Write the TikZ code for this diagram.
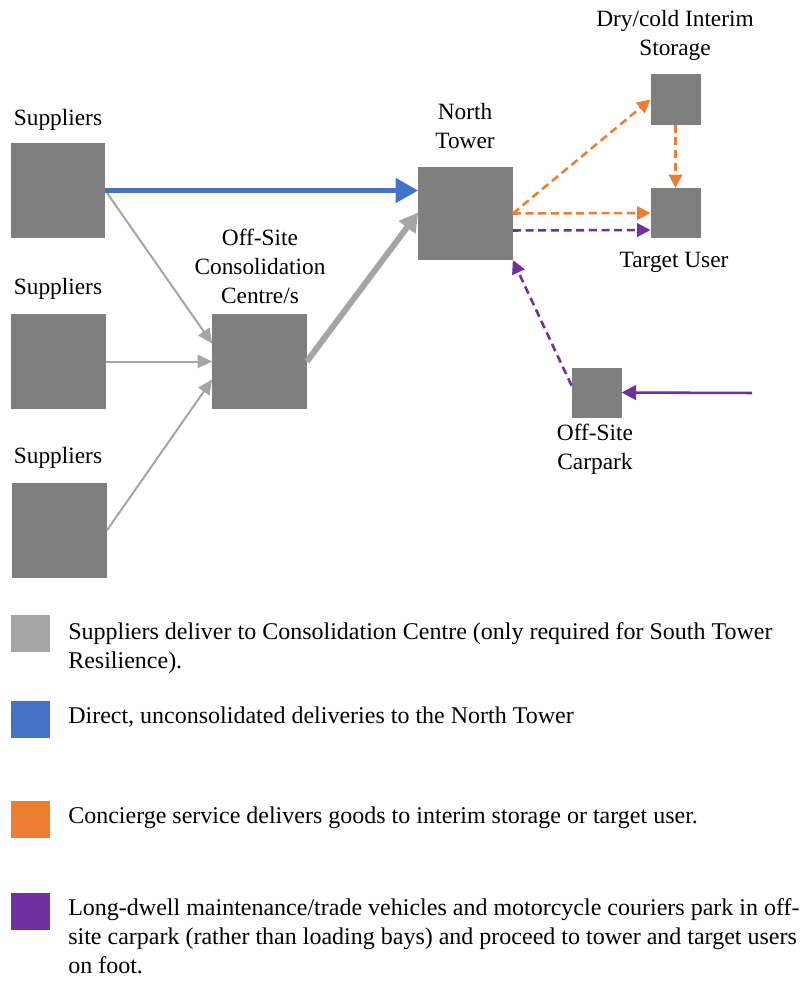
\documentclass[tikz,border=0pt]{standalone}
\usepackage{fontspec}
\setmainfont{Liberation Serif}
\usetikzlibrary{arrows.meta,calc}
\definecolor{boxgray}{HTML}{7F7F7F}
\definecolor{arrgray}{HTML}{A5A5A5}
\definecolor{myblue}{HTML}{4472C4}
\definecolor{myorange}{HTML}{ED7D31}
\definecolor{mypurple}{HTML}{7030A0}
\tikzset{
  box/.style={fill=boxgray, draw=none, inner sep=0pt, outer sep=0pt},
  bigbox/.style={box, minimum width=71pt, minimum height=71pt},
  smallbox/.style={box, minimum width=37.5pt, minimum height=37.5pt},
  lbl/.style={align=center, inner sep=0pt},
  thingray/.style={draw=arrgray, line width=1.5pt, -{Triangle[length=11pt,width=10pt]}},
  thickgray/.style={draw=arrgray, line width=4.5pt, -{Triangle[length=14pt,width=15pt]}},
  bluearr/.style={draw=myblue, line width=3.75pt, -{Triangle[length=17pt,width=18pt]}},
  orangearr/.style={draw=myorange, line width=1.9pt, dash pattern=on 6pt off 3.5pt, -{Triangle[length=10pt,width=10pt]}},
  purplearr/.style={draw=mypurple, line width=1.9pt, dash pattern=on 6pt off 3.5pt, -{Triangle[length=10pt,width=10pt]}},
  purplesolid/.style={draw=mypurple, line width=1.9pt, -{Triangle[length=11pt,width=11pt]}},
  swatch/.style={draw=none, inner sep=0pt, minimum width=29pt, minimum height=28pt},
  legtext/.style={anchor=north west, align=left, inner sep=0pt, font=\fontsize{18}{22}\selectfont}
}
\begin{document}
\begin{tikzpicture}[x=0.75pt,y=-0.75pt,font=\fontsize{17.5}{21.75}\selectfont]
\useasboundingbox (0,0) rectangle (802,981);
% boxes
\node[bigbox] (S1) at (58,190.5) {};
\node[bigbox] (S2) at (58.5,361.5) {};
\node[bigbox] (S3) at (59.5,530.5) {};
\node[bigbox] (C) at (259.5,361.5) {};
\node[bigbox, minimum height=70pt] (NT) at (465.5,213.5) {};
\node[smallbox] (ST) at (675.5,99.5) {};
\node[smallbox] (TU) at (675.5,213) {};
\node[smallbox] (CP) at (596.5,392.5) {};
% labels
\node[lbl] (lS1) at (58,120) {Suppliers};
\node[lbl] (lS2) at (58,289) {Suppliers};
\node[lbl] (lS3) at (58,458) {Suppliers};
\node[lbl] (lC) at (260,266) {Off-Site\\Consolidation\\Centre/s};
\node[lbl] (lNT) at (465,126) {North\\Tower};
\node[lbl] (lST) at (675,35) {Dry/cold Interim\\Storage};
\node[lbl] (lTU) at (674,262) {Target User};
\node[lbl] (lCP) at (595,449) {Off-Site\\Carpark};
% connectors
\draw[thingray] (S1.east) -- ($(C.west)+(0,-18)$);
\draw[thingray] (S2.east) -- (C.west);
\draw[thingray] (S3.east) -- ($(C.west)+(0,18)$);
\draw[thickgray] (C.east) -- ($(NT.west)+(0,-1)$);
\draw[bluearr] (S1.east) -- (S1.east -| NT.west);
\draw[orangearr] (NT.east) -- (ST.west);
\draw[orangearr] (NT.east) -- (TU.west);
\draw[orangearr] (ST.south) -- (TU.north);
\draw[purplearr] ($(NT.east)+(0,17)$) -- ($(TU.west)+(0,17)$);
\draw[purplearr] ($(CP.west)+(0,-7)$) -- (NT.south east);
\coordinate (feed) at (752,393);
\draw[purplesolid] (feed) -- (CP.east);
% legend
\node[swatch, fill=arrgray] (k1) at (30.5,633.5) {};
\node[swatch, fill=myblue] (k2) at (30.5,719.5) {};
\node[swatch, fill=myorange] (k3) at (30.5,819.5) {};
\node[swatch, fill=mypurple] (k4) at (30.5,911.5) {};
\node[legtext] (t1) at (68,622) {Suppliers deliver to Consolidation Centre (only required for South Tower\\Resilience).};
\node[legtext] (t2) at (68,707) {Direct, unconsolidated deliveries to the North Tower};
\node[legtext] (t3) at (68,807) {Concierge service delivers goods to interim storage or target user.};
\node[legtext] (t4) at (68,898) {Long-dwell maintenance/trade vehicles and motorcycle couriers park in off-\\site carpark (rather than loading bays) and proceed to tower and target users\\on foot.};
\end{tikzpicture}
\end{document}
